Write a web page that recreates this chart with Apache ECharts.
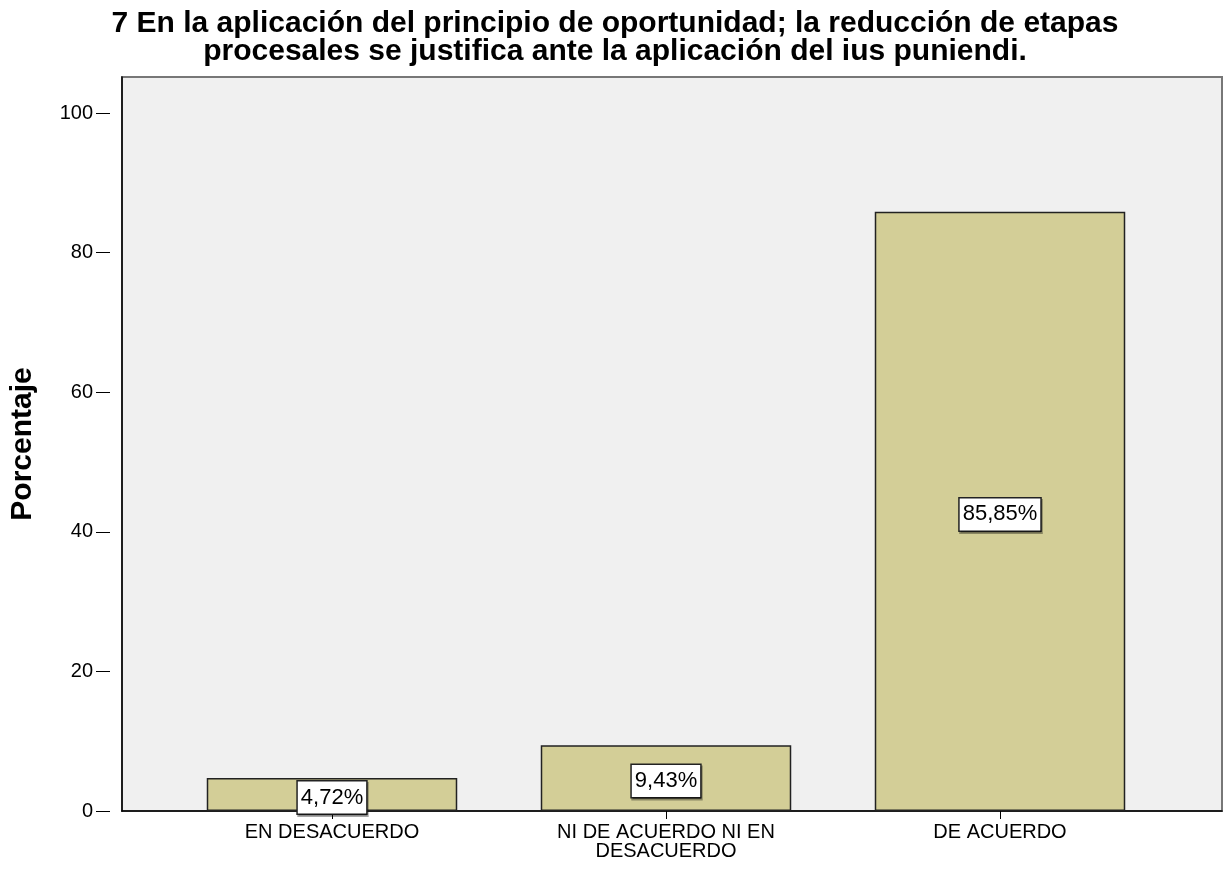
<!DOCTYPE html>
<html>
<head>
<meta charset="utf-8">
<script src="https://cdn.jsdelivr.net/npm/echarts@6/dist/echarts.min.js"></script>
<style>
html, body { margin: 0; padding: 0; background: #fff; }
#box { width: 1230px; height: 874px; }
</style>
</head>
<body>
<div id="box"></div>
<script>
var categories = ['EN DESACUERDO', 'NI DE ACUERDO NI EN\nDESACUERDO', 'DE ACUERDO'];
var porcentajes = [4.72, 9.43, 85.85];
var etiquetas = ['4,72%', '9,43%', '85,85%'];
var titulo = '7 En la aplicación del principio de oportunidad; la reducción de etapas\nprocesales se justifica ante la aplicación del ius puniendi.';

var myChart = echarts.init(document.getElementById('box'));
var fuente = 'Arial, "Liberation Sans", sans-serif';

var option = {
	backgroundColor: '#fff',
	animation: false,
	title: {
		left: 610,
		textAlign: 'center',
		top: 5,
		text: titulo,
		textStyle: {
			fontFamily: fuente,
			fontWeight: 'bold',
			fontSize: 30,
			lineHeight: 28,
			color: '#000'
		}
	},
	grid: [{
		// caja del fondo
		left: 110, right: 8, top: 77, bottom: 63,
		show: true,
		backgroundColor: '#f0f0f0',
		borderColor: '#777',
		borderWidth: 2
	}, {
		// barras
		left: 165, right: 63, top: 113, bottom: 63
	}],
	xAxis: [{
		gridIndex: 0,
		type: 'value',
		min: 0,
		max: 1,
		axisLine: { show: true, lineStyle: { color: '#000', width: 1.5 } },
		axisTick: { show: false },
		axisLabel: { show: false },
		splitLine: { show: false }
	}, {
		gridIndex: 1,
		type: 'category',
		data: categories,
		axisLine: { show: false },
		axisTick: {
			show: true,
			alignWithLabel: true,
			length: 8,
			lineStyle: { color: '#000' }
		},
		axisLabel: {
			margin: 12,
			color: '#000',
			fontFamily: fuente,
			fontSize: 20,
			lineHeight: 19
		}
	}],
	yAxis: [{
		gridIndex: 0,
		type: 'value',
		min: 0,
		max: 1,
		name: 'Porcentaje',
		nameLocation: 'middle',
		nameGap: 84,
		nameTextStyle: {
			fontFamily: fuente,
			fontWeight: 'bold',
			fontSize: 30,
			color: '#000'
		},
		axisLine: { show: true, lineStyle: { color: '#000', width: 1.5 } },
		axisTick: { show: false },
		axisLabel: { show: false },
		splitLine: { show: false }
	}, {
		gridIndex: 1,
		type: 'value',
		min: 0,
		max: 100,
		interval: 20,
		offset: 55,
		axisLine: { show: false },
		axisTick: {
			show: true,
			length: 14,
			lineStyle: { color: '#000' }
		},
		axisLabel: {
			margin: 17,
			color: '#000',
			fontFamily: fuente,
			fontSize: 20
		},
		splitLine: { show: false }
	}],
	series: [{
		name: 'Porcentaje',
		type: 'bar',
		xAxisIndex: 1,
		yAxisIndex: 1,
		data: porcentajes,
		barWidth: '75%',
		itemStyle: {
			color: '#d3ce97',
			borderColor: '#222',
			borderWidth: 1.5
		},
		label: {
			show: true,
			position: 'inside',
			offset: [0, 3],
			formatter: function (p) { return etiquetas[p.dataIndex]; },
			color: '#000',
			fontFamily: fuente,
			fontSize: 22,
			lineHeight: 24,
			backgroundColor: '#fff',
			borderColor: '#222',
			borderWidth: 1.5,
			padding: [5, 3, 3, 3],
			shadowColor: 'rgba(0,0,0,0.35)',
			shadowOffsetX: 1,
			shadowOffsetY: 2
		}
	}]
};

myChart.setOption(option);
</script>
</body>
</html>
